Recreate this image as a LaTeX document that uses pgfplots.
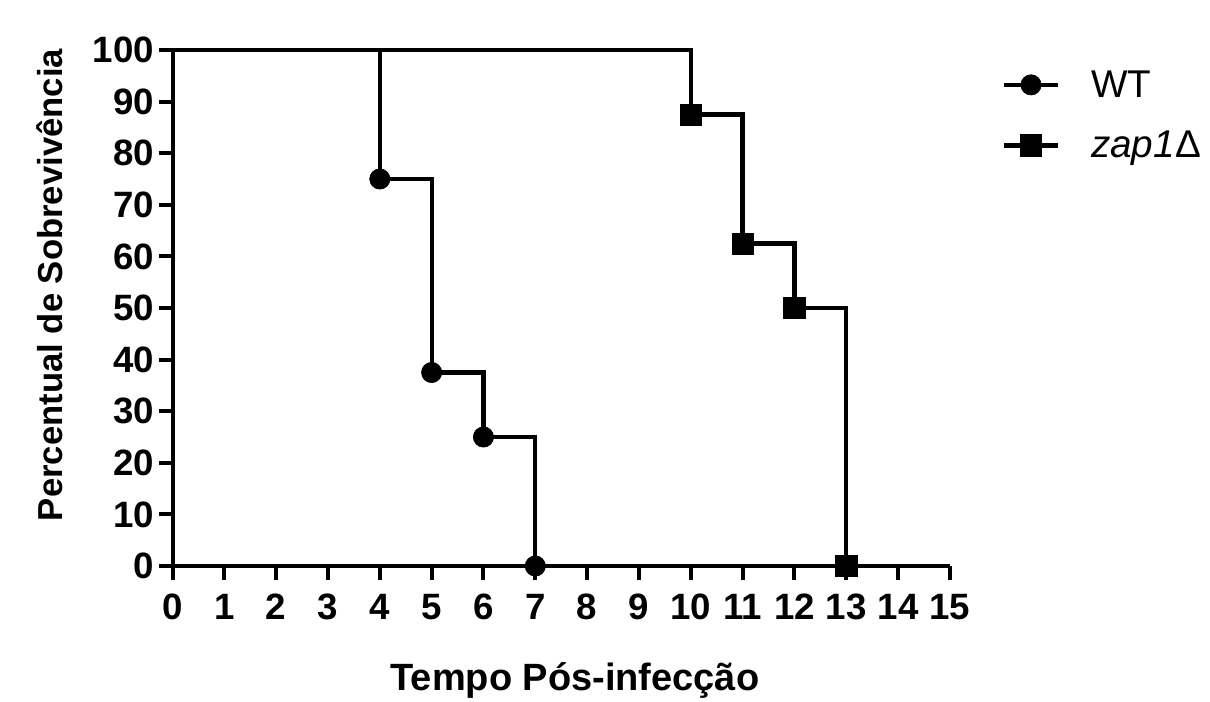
\documentclass[border=0pt]{standalone}
\usepackage{fontspec}
\setmainfont{Liberation Sans}
\usepackage{pgfplots}
\pgfplotsset{compat=1.18}
\begin{document}
\begin{tikzpicture}
\useasboundingbox (-129.4pt,-101.25pt) rectangle (778.1pt,424.5pt);
\begin{axis}[
  at={(0,0)}, anchor=south west,
  scale only axis, width=583pt, height=387pt,
  xmin=0, xmax=15, ymin=0, ymax=100,
  xtick={0,...,15}, ytick={0,10,...,100},
  axis x line*=bottom, axis y line*=left,
  axis line style={line width=3pt, -},
  tick align=outside, major tick length=10.5pt,
  every tick/.style={line width=3pt, black},
  clip=false,
  font=\fontsize{27.5}{30}\selectfont\bfseries,
  /pgf/number format/assume math mode=true,
  xticklabel style={yshift=-7pt},
  xlabel={Tempo Pós-infecção},
  ylabel={Percentual de Sobrevivência},
  xlabel style={at={(axis description cs:0.5177,-0.2403)}, anchor=base,
    font=\fontsize{28.5}{30}\selectfont\bfseries},
  ylabel style={at={(axis description cs:-0.1421,0.5446)}, anchor=base,
    font=\fontsize{26}{30}\selectfont\bfseries},
  legend style={at={(1.061,0.971)}, anchor=north west, draw=none, fill=none,
    font=\fontsize{29}{30}\selectfont\mdseries, row sep=20pt,
    /tikz/every odd column/.append style={column sep=21pt}},
  legend cell align=left,
  legend image code/.code={\draw[#1, mark repeat=2, mark phase=2] plot coordinates {(0pt,0pt) (20.5pt,0pt) (41pt,0pt)};},
]
\addplot[black, line width=3.2pt, const plot, mark=*, mark phase=2, mark repeat=1,
  mark size=7.6pt, mark options={solid, line width=0.5pt}]
  coordinates {(0,100) (4,75) (5,37.5) (6,25) (7,0)};
\addlegendentry{WT}
\addplot[black, line width=3.2pt, const plot, mark=square*, mark phase=2, mark repeat=1,
  mark size=8pt, mark options={solid, line width=0.5pt}]
  coordinates {(0,100) (10,87.5) (11,62.5) (12,50) (13,0)};
\addlegendentry{\textit{zap1}Δ}
\end{axis}
\end{tikzpicture}
\end{document}
